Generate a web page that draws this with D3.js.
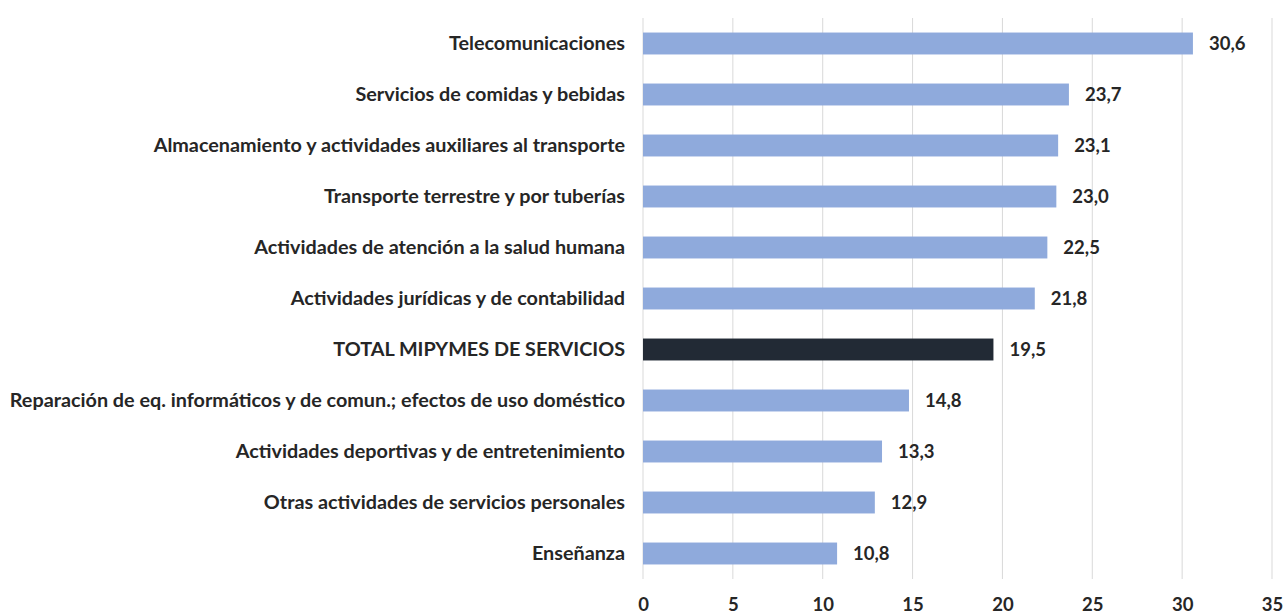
<!DOCTYPE html>
<html>
<head>
<meta charset="utf-8">
<script src="https://cdn.jsdelivr.net/npm/d3@7"></script>
<style>
  body { margin: 0; background: #fff; }
  text { font-family: Lato, "Open Sans", sans-serif; font-weight: bold; fill: #262626; }
</style>
</head>
<body>
<svg id="chart" width="1285" height="615"></svg>
<script>
const categories = [
  "Telecomunicaciones",
  "Servicios de comidas y bebidas",
  "Almacenamiento y actividades auxiliares al transporte",
  "Transporte terrestre y por tuberías",
  "Actividades de atención a la salud humana",
  "Actividades jurídicas y de contabilidad",
  "TOTAL MIPYMES DE SERVICIOS",
  "Reparación de eq. informáticos y de comun.; efectos de uso doméstico",
  "Actividades deportivas y de entretenimiento",
  "Otras actividades de servicios personales",
  "Enseñanza"
];
const values = [30.6, 23.7, 23.1, 23.0, 22.5, 21.8, 19.5, 14.8, 13.3, 12.9, 10.8];
const tickValues = [0, 5, 10, 15, 20, 25, 30, 35];
const highlight = "TOTAL MIPYMES DE SERVICIOS";

const svg = d3.select("#chart"),
  margin = {top: 18, right: 13, bottom: 36, left: 643},
  width = 1285 - margin.left - margin.right,
  height = 615 - margin.top - margin.bottom;

const g = svg.append("g").attr("transform", `translate(${margin.left},${margin.top})`);

const x = d3.scaleLinear().domain([0, 35]).range([0, width]);
const y = d3.scaleBand().domain(categories).range([0, height]).paddingInner(0.57).paddingOuter(0.285);

// líneas de cuadrícula
g.selectAll("line.grid")
  .data(tickValues)
  .enter()
  .append("line")
  .attr("class", "grid")
  .attr("x1", d => x(d))
  .attr("x2", d => x(d))
  .attr("y1", 0)
  .attr("y2", height)
  .attr("stroke", "#d9d9d9")
  .attr("stroke-width", 1);

g.selectAll("rect")
  .data(values)
  .enter()
  .append("rect")
  .attr("x", x(0))
  .attr("y", (d, i) => y(categories[i]))
  .attr("width", d => x(d) - x(0))
  .attr("height", y.bandwidth())
  .attr("fill", (d, i) => categories[i] === highlight ? "#222a35" : "#8faadc");

// valores
g.selectAll("text.value")
  .data(values)
  .enter()
  .append("text")
  .attr("class", "value")
  .attr("x", d => x(d) + 16)
  .attr("y", (d, i) => y(categories[i]) + y.bandwidth() / 2)
  .attr("dy", "0.35em")
  .style("font-size", "18.5px")
  .text(d => d.toFixed(1).replace(".", ","));

// etiquetas de categoría
g.selectAll("text.cat")
  .data(categories)
  .enter()
  .append("text")
  .attr("class", "cat")
  .attr("x", -18)
  .attr("y", d => y(d) + y.bandwidth() / 2)
  .attr("dy", "0.35em")
  .attr("text-anchor", "end")
  .style("font-size", "19.8px")
  .text(d => d);

// eje x
const xAxis = g.append("g")
  .attr("transform", `translate(0,${height})`)
  .call(d3.axisBottom(x).tickValues(tickValues).tickSize(0).tickPadding(19));
xAxis.select(".domain").remove();
xAxis.selectAll("text")
  .style("font-size", "18.5px")
  .style("font-family", "Lato, sans-serif")
  .attr("fill", "#262626");
</script>
</body>
</html>
